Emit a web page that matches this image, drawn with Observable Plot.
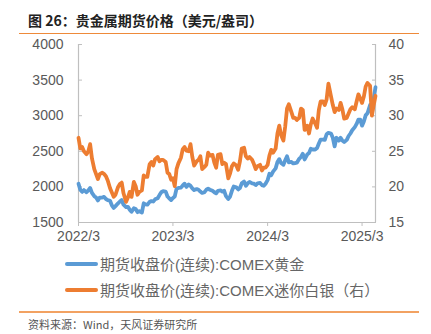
<!DOCTYPE html>
<html>
<head>
<meta charset="utf-8">
<script src="https://cdn.jsdelivr.net/npm/d3@7"></script>
<script src="https://cdn.jsdelivr.net/npm/@observablehq/plot@0.6"></script>
<style>
  html, body { margin: 0; padding: 0; background: #fff; }
  body { width: 431px; height: 334px; position: relative; overflow: hidden;
         font-family: "Liberation Sans", Arial, "Noto Sans CJK SC", sans-serif; }
  .title { position: absolute; left: 28px; top: 11px; font-size: 14px; font-weight: bold; color: #222;
           font-family: "Noto Sans CJK SC", sans-serif; line-height: 18px; white-space: nowrap; }
  .rule { position: absolute; left: 19px; width: 400px; height: 1.5px; background: #F2A262; }
  .rule.top { top: 32.5px; background: #EE8A3A; }
  .rule.bottom { top: 311px; }
  #chart { position: absolute; left: 0; top: 35px; }
  .legend { position: absolute; left: 65px; display: flex; align-items: center; white-space: nowrap;
            font-size: 15px; color: #666; font-family: "Liberation Sans", "Noto Sans CJK SC", sans-serif; }
  .legend .sw { width: 33px; height: 4px; border-radius: 2px; margin-right: 2px; }
  .source { position: absolute; left: 28px; top: 317px; font-size: 11px; color: #555; white-space: nowrap;
            font-family: "Noto Sans CJK SC", sans-serif; line-height: 14px; }
</style>
</head>
<body>
<div class="title">图 26：贵金属期货价格（美元/盎司）</div>
<div class="rule top"></div>
<div id="chart"></div>
<div class="legend" id="leg1" style="top:253px"></div>
<div class="legend" id="leg2" style="top:279px"></div>
<div class="rule bottom"></div>
<div class="source">资料来源：Wind，天风证券研究所</div>
<script>
// ---- data (weekly closes, 4 per month) ----
const months = [
  "2022-03","2022-04","2022-05","2022-06","2022-07","2022-08","2022-09","2022-10","2022-11","2022-12",
  "2023-01","2023-02","2023-03","2023-04","2023-05","2023-06","2023-07","2023-08","2023-09","2023-10","2023-11","2023-12",
  "2024-01","2024-02","2024-03","2024-04","2024-05","2024-06","2024-07","2024-08","2024-09","2024-10","2024-11","2024-12",
  "2025-01","2025-02","2025-03","2025-04"
];
const goldValues = [
  2045, 1960, 1930, 1955,   1925, 1950, 1985, 1915,   1870, 1850, 1810, 1850,   1850, 1860, 1830, 1815,
  1805, 1740, 1705, 1730,   1770, 1795, 1815, 1750,   1715, 1720, 1680, 1650,   1700, 1690, 1645, 1660,
  1640, 1770, 1755, 1750,   1790, 1800, 1795, 1825,
  1840, 1885, 1925, 1940,   1935, 1865, 1840, 1815,   1845, 1865, 1975, 1985,   1990, 2020, 2045, 2000,
  2035, 2015, 1980, 1955,   1970, 1960, 1935, 1915,   1925, 1960, 1975, 1960,   1945, 1925, 1910, 1945,
  1950, 1935, 1945, 1870,   1830, 1865, 1945, 2005,   1995, 1965, 1985, 2050,   2075, 2015, 2050, 2070,
  2050, 2045, 2025, 2050,   2055, 2025, 2015, 2045,   2095, 2185, 2165, 2215,   2260, 2350, 2390, 2335,
  2310, 2375, 2430, 2345,   2350, 2330, 2335, 2340,   2395, 2420, 2465, 2385,   2455, 2475, 2535, 2525,
  2525, 2545, 2610, 2665,   2665, 2660, 2740, 2760,   2750, 2690, 2570, 2690,   2650, 2690, 2650, 2630,
  2660, 2715, 2750, 2795,   2840, 2885, 2945, 2945,   2860, 2920, 3005, 3035,   3150, 3030, 3240, 3400
];
const silverValues = [
  26.9, 25.4, 25.6, 25.0,   24.6, 25.0, 26.0, 24.0,   22.5, 21.8, 21.1, 21.8,   22.0, 21.8, 21.5, 20.9,
  19.8, 19.2, 18.6, 18.9,   20.0, 20.4, 20.6, 19.1,   17.9, 18.5, 19.3, 18.6,   20.7, 20.1, 18.9, 19.3,
  19.5, 21.6, 21.4, 21.4,   23.2, 23.5, 23.0, 23.9,
  24.2, 23.6, 23.8, 23.8,   23.5, 22.0, 21.8, 21.0,   21.2, 20.1, 22.5, 23.3,   24.1, 25.3, 25.6, 25.1,
  25.0, 26.0, 24.2, 23.0,   23.6, 23.8, 24.3, 22.5,   22.8, 23.1, 24.8, 24.4,   24.5, 23.4, 22.7, 24.5,
  24.6, 23.2, 23.4, 23.2,   21.2, 21.9, 22.9, 23.3,   23.0, 22.4, 23.6, 25.4,   25.5, 24.3, 24.0, 24.2,
  23.8, 23.2, 22.5, 22.9,   23.1, 22.3, 22.7, 22.7,   23.1, 24.4, 25.2, 24.8,   25.4, 27.5, 28.6, 27.3,
  26.5, 28.5, 31.0, 31.6,   30.5, 29.7, 29.7, 29.4,   29.7, 31.0, 30.8, 28.0,   28.6, 27.5, 28.8, 29.6,
  28.9, 28.3, 30.8, 32.0,   32.0, 31.5, 32.3, 34.5,   32.7, 31.5, 30.5, 31.0,   30.8, 31.8, 30.9, 29.6,
  29.7, 30.3, 30.9, 31.2,   30.9, 32.0, 33.0, 32.4,   31.8, 32.7, 34.1, 34.6,   34.2, 30.0, 31.5, 32.8
];
const xTickLabels = ["2022/3", "2023/3", "2024/3", "2025/3"];
const leftTicks = [1500, 2000, 2500, 3000, 3500, 4000];
const rightTicks = [15, 20, 25, 30, 35, 40];
const seriesNames = ["期货收盘价(连续):COMEX黄金", "期货收盘价(连续):COMEX迷你白银（右）"];
const colors = ["#5B9BD5", "#ED7D31"];

// ---- derived tables ----
const parseMonth = d3.utcParse("%Y-%m");
const dates = [];
months.forEach(m => { const d0 = parseMonth(m); for (let i = 0; i < 4; i++) dates.push(d3.utcDay.offset(d0, 7 * i)); });
const gold = dates.map((date, i) => ({date, value: goldValues[i]}));
const silver = dates.map((date, i) => ({date, value: silverValues[i]}));
const toLeft = v => leftTicks[0] + (v - rightTicks[0]) * (leftTicks[leftTicks.length - 1] - leftTicks[0]) / (rightTicks[rightTicks.length - 1] - rightTicks[0]);
const fromLeft = y => rightTicks[0] + (y - leftTicks[0]) * (rightTicks[rightTicks.length - 1] - rightTicks[0]) / (leftTicks[leftTicks.length - 1] - leftTicks[0]);
const xTicks = xTickLabels.map(s => d3.utcParse("%Y/%m")(s));
const x0 = xTicks[0], x1 = dates[dates.length - 1];

const axisColor = "#BFBFBF", textColor = "#595959";
const plot = Plot.plot({
  width: 431, height: 210,
  marginTop: 9, marginBottom: 23, marginLeft: 78, marginRight: 56,
  x: {type: "utc", domain: [x0, x1]},
  y: {domain: [leftTicks[0], leftTicks[leftTicks.length - 1]]},
  style: {fontSize: "14px", fontFamily: "'Liberation Sans', Arial, sans-serif", color: textColor, background: "transparent"},
  marks: [
    Plot.axisY({anchor: "left", ticks: leftTicks, tickFormat: d => String(d), tickSize: -4, tickPadding: 19, stroke: axisColor, fill: textColor, label: null}),
    Plot.axisY({anchor: "right", ticks: rightTicks.map(toLeft), tickFormat: d => String(Math.round(fromLeft(d))), tickSize: -4, tickPadding: 17, stroke: axisColor, fill: textColor, label: null}),
    Plot.axisX({ticks: xTicks, tickFormat: (d, i) => xTickLabels[i], tickSize: 4, tickPadding: 5, stroke: axisColor, fill: textColor, label: null}),
    Plot.ruleX([x0, x1], {stroke: axisColor, strokeWidth: 1.2}),
    Plot.ruleY([leftTicks[0]], {stroke: axisColor, strokeWidth: 1.2}),
    Plot.line(gold, {x: "date", y: "value", stroke: colors[0], strokeWidth: 3.8, curve: "linear"}),
    Plot.line(silver, {x: "date", y: d => toLeft(d.value), stroke: colors[1], strokeWidth: 3.8, curve: "linear"})
  ]
});
document.getElementById("chart").appendChild(plot);

["leg1", "leg2"].forEach((id, i) => {
  const el = document.getElementById(id);
  const sw = document.createElement("div"); sw.className = "sw"; sw.style.background = colors[i];
  const tx = document.createElement("span"); tx.textContent = seriesNames[i];
  el.appendChild(sw); el.appendChild(tx);
});
</script>
</body>
</html>
